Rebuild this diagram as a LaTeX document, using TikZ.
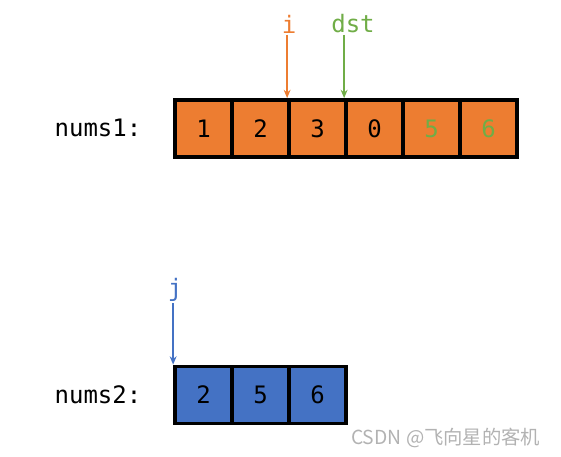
\documentclass[tikz,border=0pt]{standalone}
\usepackage{fontspec}
\setmonofont{DejaVu Sans Mono}
\newfontfamily\cjkfont{Noto Sans CJK SC}
\usetikzlibrary{arrows.meta,positioning}
\definecolor{cellorange}{HTML}{ED7D31}
\definecolor{cellblue}{HTML}{4472C4}
\definecolor{ptrgreen}{HTML}{70AD47}

\begin{document}
\begin{tikzpicture}[
  x=0.75pt,y=-0.75pt,
  cell/.style={
    draw=black,
    line width=2.8pt,
    minimum width=42.75pt,
    minimum height=42.75pt,
    inner sep=0pt,
    font=\ttfamily\fontsize{18}{18}\selectfont
  },
  arrname/.style={
    font=\ttfamily\fontsize{18}{18}\selectfont,
    inner sep=1pt
  },
  ptrname/.style={
    font=\ttfamily\fontsize{18}{18}\selectfont,
    inner sep=1pt
  },
  ptr/.style={-{Stealth[length=2.2mm,width=1.8mm]},line width=1.1pt}
]
  \useasboundingbox (0,0) rectangle (561,457);

  % nums1
  \foreach \v/\c [count=\k] in {1/black,2/black,3/black,0/black,5/ptrgreen,6/ptrgreen}
    \node[cell,fill=cellorange,text=\c] (a\k) at ({146.5+57*\k},128.5) {\v};
  \node[arrname] (nums1) at (98,128) {nums1:};

  % nums2
  \foreach \v [count=\k] in {2,5,6}
    \node[cell,fill=cellblue] (b\k) at ({146.5+57*\k},395) {\v};
  \node[arrname] (nums2) at (98,395) {nums2:};

  % pointers
  \node[ptrname,text=cellorange] (i) at (289,24) {i};
  \node[ptrname,text=ptrgreen] (dst) at (353,24) {dst};
  \node[ptrname,text=cellblue] (j) at (175,290) {j};

  \draw[ptr,draw=cellorange] (a3.north west |- i.south) -- (a3.north west);
  \draw[ptr,draw=ptrgreen] (a4.north west |- dst.south) -- (a4.north west);
  \draw[ptr,draw=cellblue] (b1.north west |- j.south) -- (b1.north west);

  % watermark
  \node[text=black!30,font=\cjkfont\fontsize{14.5}{14.5}\selectfont,anchor=east]
    (mark) at (545,438) {CSDN @飞向星的客机};
\end{tikzpicture}
\end{document}
